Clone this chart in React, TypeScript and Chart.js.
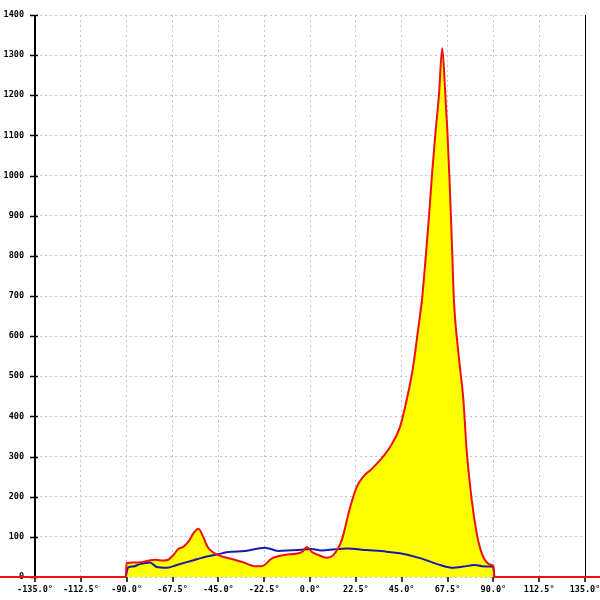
import React, { useEffect, useRef } from "react";
import { Chart, registerables } from "chart.js";

Chart.register(...registerables);

// Red series (filled yellow) – angle in degrees, value
const redAngles = [
  -160, -90.5, -90, -87, -83, -80, -76, -72, -69.6, -67, -64.7, -62.2, -59.7, -57.3, -54.8,
  -52.4, -50.4, -47.5, -44.2, -39.3, -33.5, -27, -23.7, -18.8, -12.3, -5.7, -3.3, -1.6, 0.8,
  4, 8.2, 11.3, 15.6, 19.6, 22.9, 26, 30, 34.4, 39.3, 44.2, 47.5, 50.6, 52.9, 55.1, 56.8,
  58.4, 60, 61.7, 63.3, 64.9, 66.4, 67.5, 68.4, 69.2, 69.9, 70.5, 71.2, 72, 73.6, 75.3, 76.9,
  79.4, 81.8, 83.5, 85.9, 89.2, 90, 90.5, 160,
];
const redValues = [
  0, 0, 35, 36, 37, 40, 43, 41, 43, 55, 70, 75, 88, 108, 120,
  100, 76, 61, 53, 46, 38, 27, 27, 46, 55, 59, 65, 75, 63,
  55, 48, 54, 92, 172, 224, 249, 268, 291, 324, 374, 442, 523, 610, 697, 797,
  897, 1010, 1113, 1200, 1317, 1205, 1105, 1000, 897, 797, 705, 645, 600, 523, 441, 316,
  192, 110, 72, 42, 30, 28, 0, 0,
];

// Blue series
const blueAngles = [
  -90.5, -89.2, -86.7, -83.5, -78.5, -75.3, -70.3, -65.4, -60.5, -55.6, -50.7, -45.8, -40.1,
  -31.9, -22.1, -15.6, -5.7, 0.8, 5.7, 12.3, 18, 27.8, 37.6, 44.2, 54, 63.8, 70.3, 75.3,
  81, 84.3, 88.7, 90, 90.5,
];
const blueValues = [
  0, 24, 26, 32, 36, 25, 23, 30, 37, 44, 51, 56, 62,
  65, 73, 65, 67, 70, 66, 69, 71, 67, 63, 59, 47, 30, 23, 26,
  30, 27, 26, 25, 0,
];

const xMin = -135;
const xMax = 135;
const xStep = 22.5;
const yMin = 0;
const yMax = 1400;
const yStep = 100;

const FONT = { family: "'DejaVu Sans Mono', monospace", size: 8.5, weight: "bold" as const };

const axesPlugin = {
  id: "customAxes",
  beforeDatasetsDraw(chart: any) {
    const { ctx, chartArea, scales } = chart;
    const { left, right, top, bottom } = chartArea;
    ctx.save();
    ctx.strokeStyle = "#000";
    ctx.setLineDash([]);
    // left axis
    ctx.lineWidth = 2;
    ctx.beginPath();
    ctx.moveTo(left, top);
    ctx.lineTo(left, bottom);
    ctx.stroke();
    // right border
    ctx.lineWidth = 1;
    ctx.beginPath();
    ctx.moveTo(right + 0.5, top);
    ctx.lineTo(right + 0.5, bottom);
    ctx.stroke();
    // y ticks crossing axis
    ctx.lineWidth = 1.5;
    scales.y.ticks.forEach((t: any) => {
      const py = Math.round(scales.y.getPixelForValue(t.value)) + 0.5;
      ctx.beginPath();
      ctx.moveTo(left - 5, py);
      ctx.lineTo(left + 3, py);
      ctx.stroke();
    });
    // x ticks below axis
    scales.x.ticks.forEach((t: any) => {
      const px = Math.round(scales.x.getPixelForValue(t.value));
      ctx.beginPath();
      ctx.moveTo(px, bottom);
      ctx.lineTo(px, bottom + 5);
      ctx.stroke();
    });
    ctx.restore();
  },
};

export default function App() {
  const ref = useRef<HTMLCanvasElement | null>(null);

  useEffect(() => {
    if (!ref.current) return;
    const redData = redAngles.map((x, i) => ({ x, y: redValues[i] }));
    const blueData = blueAngles.map((x, i) => ({ x, y: blueValues[i] }));
    const chart = new Chart(ref.current, {
      type: "line",
      data: {
        datasets: [
          {
            data: redData,
            borderColor: "#ee1111",
            backgroundColor: "#ffff00",
            borderWidth: 2,
            pointRadius: 0,
            fill: "origin",
            cubicInterpolationMode: "monotone",
            clip: false as any,
          },
          {
            data: blueData,
            borderColor: "#1a1aa8",
            borderWidth: 2,
            pointRadius: 0,
            fill: false,
            cubicInterpolationMode: "monotone",
          },
        ],
      },
      options: {
        animation: false,
        responsive: false,
        maintainAspectRatio: false,
        layout: { padding: { top: 15, right: 15, left: 0, bottom: 0 } },
        plugins: {
          legend: { display: false },
          tooltip: { enabled: false },
          filler: { drawTime: "beforeDatasetsDraw" },
        },
        scales: {
          x: {
            type: "linear",
            min: xMin,
            max: xMax,
            ticks: {
              stepSize: xStep,
              autoSkip: false,
              maxRotation: 0,
              color: "#000",
              font: FONT,
              padding: 8,
              callback: (v: any) => Number(v).toFixed(1) + "°",
            },
            grid: { color: "#c4c4c4", drawTicks: false, lineWidth: 1 },
            border: { display: false, dash: [2, 3] },
            afterFit: (s: any) => {
              s.height = 23;
              s.paddingLeft = 0;
              s.paddingRight = 0;
            },
          },
          y: {
            type: "linear",
            min: yMin,
            max: yMax,
            ticks: {
              stepSize: yStep,
              autoSkip: false,
              color: "#000",
              font: FONT,
              padding: 11,
              callback: (v: any) => String(v),
            },
            grid: { color: "#c4c4c4", drawTicks: false, lineWidth: 1 },
            border: { display: false, dash: [2, 3] },
            afterFit: (s: any) => {
              s.width = 35;
              s.paddingTop = 0;
              s.paddingBottom = 0;
            },
          },
        },
      },
      plugins: [axesPlugin],
    });
    return () => chart.destroy();
  }, []);

  return (
    <div style={{ position: "absolute", left: 0, top: 0, width: 600, height: 600, background: "#fff" }}>
      <canvas ref={ref} width={600} height={600} style={{ display: "block" }} />
    </div>
  );
}
